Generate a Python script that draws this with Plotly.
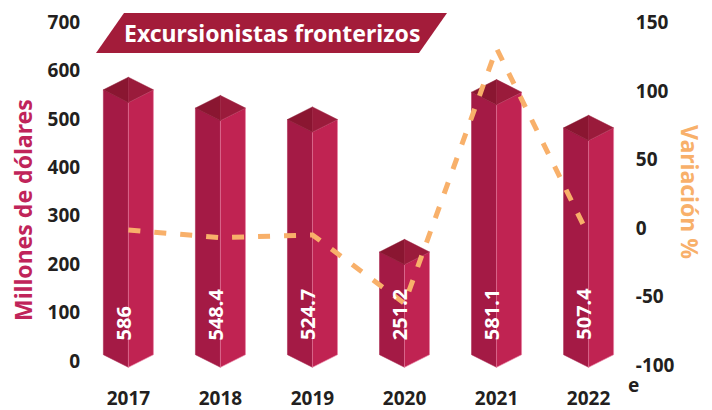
import plotly.graph_objects as go

# ---------------- data ----------------
years = ["2017", "2018", "2019", "2020", "2021", "2022"]
valores = [586, 548.4, 524.7, 251.2, 581.1, 507.4]          # millones de dólares
etiquetas = ["586", "548.4", "524.7", "251.2", "581.1", "507.4"]
variacion = [-1.5, -7, -5, -55, 131, -5.5]                   # variación %
left_ticks = [0, 100, 200, 300, 400, 500, 600, 700]
right_ticks = [-100, -50, 0, 50, 100, 150]
right_tick_labels = ["-100", "-50", "0", "50", "100", "150"]

# ---------------- style ----------------
FONT = "Noto Sans"
DARK = "#231F20"
CRIMSON_TXT = "#C0245A"
ORANGE = "#F8B06A"
LEFT_FACE = "#A41A45"
RIGHT_FACE = "#C02352"
TOP_L = "#8A1631"
TOP_R = "#9A1B3B"
EDGE = "rgba(235,130,165,0.75)"
BANNER = "#A31C3A"

W, H = 712, 410
ML, MR, MT, MB = 90, 90, 10, 38
PW, PH = W - ML - MR, H - MT - MB

X_RANGE = [-0.417, 5.363]
Y_RANGE = [-22.7, 724.8]
Y2_RANGE = [-104.95, 158.96]

HALF_W = 0.2717      # half width of prism (x units)
D = 26.0             # depth offset of prism (y units)

fig = go.Figure()

for i, v in enumerate(valores):
    xc = i
    polys = [
        ([xc - HALF_W, xc, xc, xc - HALF_W], [D / 2, -D / 2, v - 2 * D, v - D], LEFT_FACE, 0),
        ([xc, xc + HALF_W, xc + HALF_W, xc], [-D / 2, D / 2, v - D, v - 2 * D], RIGHT_FACE, 0.8),
        ([xc - HALF_W, xc, xc], [v - D, v, v - 2 * D], TOP_L, 0),
        ([xc, xc + HALF_W, xc], [v, v - D, v - 2 * D], TOP_R, 0),
    ]
    for xs, ys, col, lw in polys:
        fig.add_trace(go.Scatter(
            x=xs + [xs[0]], y=ys + [ys[0]], mode="lines", fill="toself",
            fillcolor=col, line=dict(color=EDGE if lw else col, width=lw if lw else 0.5),
            hoverinfo="skip", showlegend=False, xaxis="x", yaxis="y"))

# variation line
fig.add_trace(go.Scatter(
    x=list(range(len(years))), y=variacion, mode="lines",
    line=dict(color=ORANGE, width=5, dash="12px,14px"),
    yaxis="y2", xaxis="x", showlegend=False, hoverinfo="skip"))

annotations = []
for i, lab in enumerate(etiquetas):
    annotations.append(dict(
        x=i, y=39, xref="x", yref="y", text=lab, showarrow=False,
        textangle=-90, xanchor="center", yanchor="bottom", xshift=-5,
        font=dict(family=FONT, size=20, color="white", weight="bold")))

def px_x(p):
    return (p - ML) / PW

def px_y(p):
    return (H - MB - p) / PH

# banner title
banner_path = "M {:.4f},{:.4f} L {:.4f},{:.4f} L {:.4f},{:.4f} L {:.4f},{:.4f} Z".format(
    px_x(124), px_y(13), px_x(447), px_y(13), px_x(419), px_y(53), px_x(96), px_y(53))
shapes = [dict(type="path", path=banner_path, xref="paper", yref="paper",
               fillcolor=BANNER, line=dict(width=0), layer="above")]

annotations.append(dict(
    x=px_x(271.5), y=px_y(33), xref="paper", yref="paper",
    text="Excursionistas fronterizos", showarrow=False,
    xanchor="center", yanchor="middle",
    font=dict(family=FONT, size=23, color="white", weight="bold")))

annotations.append(dict(
    x=px_x(23), y=px_y(210), xref="paper", yref="paper",
    text="Millones de dólares", showarrow=False, textangle=-90,
    xanchor="center", yanchor="middle",
    font=dict(family=FONT, size=23, color=CRIMSON_TXT, weight="bold")))

annotations.append(dict(
    x=px_x(690), y=px_y(192), xref="paper", yref="paper",
    text="Variación %", showarrow=False, textangle=90,
    xanchor="center", yanchor="middle",
    font=dict(family=FONT, size=23, color=ORANGE, weight="bold")))

annotations.append(dict(
    x=px_x(633), y=px_y(385), xref="paper", yref="paper",
    text="e", showarrow=False, xanchor="center", yanchor="middle",
    font=dict(family=FONT, size=19, color=DARK, weight="bold")))

tickfont = dict(family=FONT, size=19, color=DARK, weight="bold")

fig.update_layout(
    width=W, height=H,
    margin=dict(l=ML, r=MR, t=MT, b=MB, autoexpand=False),
    paper_bgcolor="white", plot_bgcolor="white",
    showlegend=False,
    xaxis=dict(range=X_RANGE, tickmode="array", tickvals=list(range(len(years))),
               ticktext=years, showgrid=False, zeroline=False, showline=False,
               ticks="outside", ticklen=9, tickcolor="rgba(0,0,0,0)",
               tickfont=tickfont, fixedrange=True, automargin=False),
    yaxis=dict(range=Y_RANGE, tickmode="array", tickvals=left_ticks,
               showgrid=False, zeroline=False, showline=False,
               ticks="outside", ticklen=5, tickcolor="rgba(0,0,0,0)",
               tickfont=tickfont, fixedrange=True, automargin=False),
    yaxis2=dict(range=Y2_RANGE, overlaying="y", side="right", tickmode="array",
                tickvals=right_ticks, ticktext=right_tick_labels,
                showgrid=False, zeroline=False, showline=False,
                ticks="outside", ticklen=9, tickcolor="rgba(0,0,0,0)",
                tickfont=tickfont, fixedrange=True, automargin=False),
    shapes=shapes,
    annotations=annotations,
)

fig.write_html(
    "out.html",
    config={"displayModeBar": False},
    post_script="document.body.style.margin='0';document.body.style.overflow='hidden';",
)
